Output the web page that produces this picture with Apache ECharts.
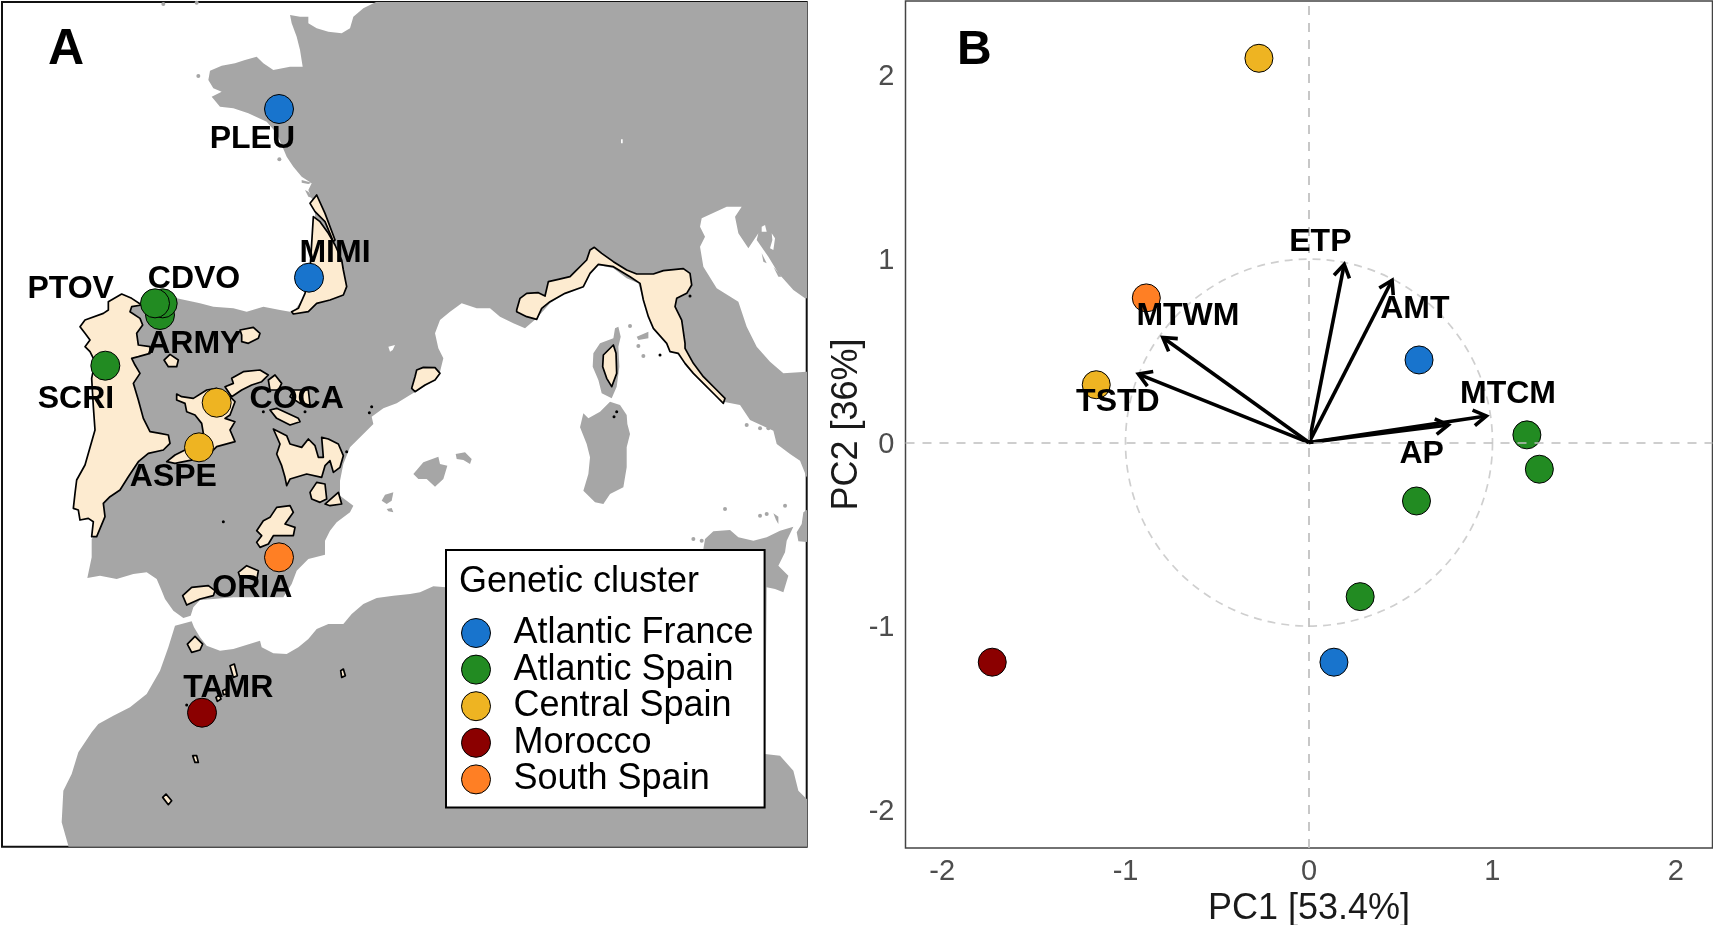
<!DOCTYPE html>
<html>
<head>
<meta charset="utf-8">
<title>Genetic clusters and climate PCA</title>
<script src="https://cdn.jsdelivr.net/npm/echarts@6/dist/echarts.min.js"></script>
<style>
  html, body { margin: 0; padding: 0; background: #fff; }
  #chart { width: 1713px; height: 925px; }
</style>
</head>
<body>
<div id="chart"></div>
<script>
const europeCoast = [[1130,-10],[1130,5],[1090,25],[1060,50],[1050,85],[1025,100],[985,95],[950,85],[925,70],[925,50],[900,50],[870,45],[875,70],[890,110],[900,150],[908,200],[870,200],[820,210],[790,190],[770,170],[735,180],[705,190],[665,197],[630,212],[625,240],[640,265],[665,275],[635,290],[660,320],[700,325],[745,340],[800,365],[830,400],[845,435],[860,470],[880,500],[905,530],[935,550],[925,570],[945,620],[945,700],[935,790],[925,870],[905,900],[885,930],[870,935],[840,930],[790,920],[740,935],[700,925],[640,920],[600,910],[530,895],[430,915],[400,900],[330,930],[300,1000],[300,1300],[260,1500],[290,1600],[275,1617],[275,1672],[262,1734],[300,1727],[350,1737],[400,1722],[440,1717],[470,1737],[485,1772],[495,1797],[520,1832],[550,1854],[572,1847],[580,1822],[600,1800],[640,1797],[700,1792],[790,1792],[850,1792],[875,1752],[890,1712],[925,1677],[975,1664],[975,1622],[990,1592],[1010,1567],[1050,1537],[1060,1517],[1020,1487],[1020,1442],[1030,1392],[1050,1342],[1090,1302],[1120,1272],[1115,1250],[1150,1225],[1190,1210],[1230,1185],[1290,1150],[1320,1115],[1330,1075],[1315,1045],[1305,1000],[1320,960],[1350,935],[1385,910],[1430,925],[1470,925],[1500,950],[1540,970],[1575,985],[1610,955],[1650,910],[1695,880],[1750,860],[1770,820],[1795,795],[1840,805],[1880,835],[1915,850],[1935,920],[1960,985],[2000,1030],[2030,1060],[2060,1100],[2110,1150],[2170,1205],[2220,1215],[2250,1260],[2320,1292],[2330,1332],[2370,1362],[2400,1382],[2420,1432],[2440,1432],[2440,1115],[2420,1115],[2350,1120],[2310,1085],[2270,1040],[2240,980],[2215,905],[2150,865],[2110,800],[2100,740],[2115,710],[2100,680],[2105,655],[2180,620],[2225,620],[2205,650],[2215,700],[2245,745],[2275,700],[2270,720],[2305,770],[2335,820],[2380,870],[2415,895],[2440,895],[2440,-10]];
const africaCoast = [[205,2550],[205,2537],[185,2467],[190,2372],[215,2322],[235,2257],[275,2197],[295,2172],[340,2147],[390,2122],[440,2082],[480,2012],[505,1942],[525,1877],[575,1864],[582,1882],[600,1912],[620,1937],[660,1952],[700,1947],[780,1922],[785,1942],[820,1960],[860,1962],[895,1942],[925,1917],[950,1887],[985,1872],[1030,1872],[1055,1842],[1090,1812],[1130,1794],[1180,1787],[1230,1782],[1260,1777],[1300,1759],[1338,1762],[2110,1647],[2115,1617],[2140,1594],[2190,1590],[2215,1612],[2260,1622],[2300,1612],[2340,1592],[2380,1580],[2360,1622],[2355,1657],[2335,1697],[2365,1727],[2350,1777],[2325,1767],[2300,1762],[2295,2262],[2340,2267],[2380,2312],[2395,2372],[2420,2397],[2440,2400],[2440,2550]];
const sicily = [[2390,1597],[2405,1572],[2410,1537],[2420,1530],[2440,1530],[2440,1627],[2395,1624]];
const corsica = [[1855,980],[1862,1010],[1855,1040],[1858,1100],[1850,1160],[1835,1195],[1805,1180],[1795,1140],[1778,1100],[1780,1060],[1800,1030],[1840,1015],[1845,985]];
const sardinia = [[1750,1240],[1765,1255],[1800,1235],[1830,1205],[1860,1215],[1880,1245],[1882,1272],[1890,1302],[1880,1342],[1880,1402],[1870,1462],[1830,1482],[1810,1512],[1785,1507],[1750,1472],[1765,1422],[1770,1372],[1760,1332],[1740,1282]];
const mallorca = [[1240,1422],[1270,1387],[1315,1370],[1320,1392],[1342,1397],[1330,1437],[1305,1460],[1280,1437],[1255,1437]];
const menorca = [[1367,1362],[1395,1357],[1415,1377],[1410,1392],[1390,1380],[1370,1377]];
const ibiza = [[1145,1502],[1155,1484],[1180,1477],[1175,1502],[1160,1512]];
const formentera = [[1160,1527],[1175,1524],[1180,1537],[1165,1534]];
const elba = [[1910,1010],[1945,995],[1945,1015],[1915,1020]];
const reIsland = [[905,540],[935,548],[925,552],[905,548]];
const oleron = [[915,570],[925,575],[940,595],[925,590]];
const egadi = [[2320,1540],[2335,1550],[2335,1572],[2328,1560]];
const cres = [[2285,760],[2300,790],[2290,785]];
const dugi = [[2320,800],[2345,830],[2335,830]];
const landShapes = [europeCoast, africaCoast, sicily, corsica, sardinia, mallorca, menorca, ibiza, formentera, elba, reIsland, oleron, egadi, cres, dugi];

const kvarner = [[2285,680],[2295,675],[2300,695],[2285,695]];
const krk = [[2315,700],[2325,715],[2320,750],[2310,745],[2317,720]];
const lakeLeman = [[1863,418],[1868,418],[1868,430],[1863,430]];
const ebroSpot = [[1165,1040],[1185,1035],[1178,1050],[1170,1055]];
const seaShapes = [kvarner, krk, lakeLeman, ebroSpot];

// Species range patches
const landesNorth = [[930,610],[950,585],[975,640],[1005,720],[1000,725],[975,665],[945,635]];
const landes = [[940,650],[960,665],[985,700],[1005,735],[1025,780],[1030,810],[1040,860],[1030,885],[990,900],[950,910],[925,935],[880,942],[875,935],[895,925],[915,880],[930,810],[935,730]];
const galiciaPortugal = [[325,905],[365,882],[395,895],[425,915],[395,920],[390,935],[420,955],[428,975],[410,1000],[415,1035],[450,1040],[450,1060],[415,1070],[395,1075],[405,1095],[420,1120],[400,1150],[415,1200],[430,1255],[450,1295],[480,1300],[505,1305],[510,1330],[490,1350],[445,1360],[415,1385],[385,1430],[360,1470],[330,1490],[310,1510],[315,1550],[290,1610],[275,1610],[280,1565],[265,1555],[240,1560],[235,1530],[220,1525],[225,1480],[230,1440],[255,1395],[285,1290],[280,1220],[275,1135],[285,1085],[270,1055],[255,1040],[270,1020],[255,1000],[240,980],[255,960],[310,940],[325,930]];
const asturias = [[720,990],[760,982],[780,1000],[775,1015],[745,1030],[725,1025],[725,1005]];
const leon = [[510,1063],[535,1080],[530,1100],[505,1100],[492,1080]];
const centralSpain = [[530,1182],[545,1190],[580,1195],[620,1170],[650,1165],[690,1190],[705,1205],[690,1245],[675,1255],[705,1265],[690,1290],[705,1325],[650,1340],[630,1360],[600,1375],[525,1390],[500,1385],[525,1365],[555,1350],[580,1325],[610,1300],[605,1270],[585,1245],[560,1235],[555,1210],[530,1200]];
const guadarramaA = [[675,1160],[700,1150],[695,1135],[730,1115],[780,1110],[805,1125],[785,1145],[755,1155],[725,1170],[695,1190],[685,1175]];
const guadarramaB = [[805,1140],[825,1125],[845,1150],[835,1170],[810,1170]];
const guadarramaC = [[880,1170],[925,1170],[930,1215],[900,1210],[870,1190]];
const cocaBar = [[810,1230],[830,1225],[895,1255],[900,1265],[870,1275],[830,1255]];
const eastSpain = [[820,1287],[860,1307],[870,1332],[905,1342],[925,1317],[945,1337],[955,1372],[970,1372],[965,1312],[985,1317],[1015,1332],[1030,1367],[1020,1402],[1000,1417],[990,1382],[975,1397],[965,1432],[920,1422],[870,1437],[860,1457],[855,1432],[845,1397],[830,1362],[840,1332]];
const cuenca = [[930,1477],[950,1447],[975,1452],[980,1497],[960,1507],[935,1497]];
const valencia = [[975,1512],[1015,1477],[1025,1512],[990,1517]];
const betic = [[770,1592],[790,1562],[810,1552],[830,1522],[870,1517],[880,1537],[855,1572],[885,1582],[880,1607],[850,1607],[820,1607],[805,1632],[780,1642],[770,1627],[785,1607]];
const sierraNevada = [[715,1717],[740,1697],[775,1712],[770,1742],[740,1732],[720,1732]];
const malaga = [[548,1787],[575,1762],[625,1757],[645,1772],[640,1787],[600,1797],[560,1815]];
const rif = [[562,1932],[585,1909],[608,1932],[600,1950],[575,1957]];
const atlasA = [[690,1997],[703,1992],[712,2027],[700,2032]];
const atlasB = [[648,2092],[658,2084],[663,2097],[652,2104]];
const atlasC = [[668,2072],[678,2067],[680,2082],[670,2084]];
const atlasD = [[1022,2012],[1030,2007],[1036,2027],[1025,2032]];
const atlasE = [[578,2267],[590,2267],[595,2287],[585,2287]];
const atlasF = [[488,2392],[498,2382],[515,2402],[505,2414]];
const pyrenees = [[1250,1110],[1270,1102],[1305,1103],[1320,1120],[1305,1140],[1275,1155],[1245,1175],[1235,1165],[1245,1130]];
const alpsApennines = [[1550,930],[1560,895],[1580,880],[1615,878],[1635,888],[1645,845],[1675,838],[1710,830],[1725,815],[1745,795],[1760,780],[1770,750],[1783,742],[1805,760],[1840,785],[1880,810],[1910,822],[1960,822],[1990,812],[2050,806],[2070,820],[2075,855],[2060,880],[2030,895],[2025,920],[2045,960],[2055,1030],[2055,1045],[2080,1090],[2110,1130],[2150,1170],[2175,1195],[2170,1210],[2145,1185],[2110,1150],[2080,1120],[2055,1090],[2035,1060],[2010,1055],[2000,1030],[1960,985],[1945,950],[1930,900],[1920,850],[1890,830],[1840,800],[1795,793],[1770,820],[1750,860],[1695,880],[1650,905],[1625,925],[1610,958],[1580,950],[1550,935]];
const corsicaRange = [[1810,1065],[1840,1035],[1848,1060],[1850,1120],[1835,1160],[1820,1135],[1808,1100]];
const rangeShapes = [landesNorth, landes, galiciaPortugal, asturias, leon, centralSpain, guadarramaA, guadarramaB, guadarramaC, cocaBar, eastSpain, cuenca, valencia, betic, sierraNevada, malaga, rif, atlasA, atlasB, atlasC, atlasD, atlasE, atlasF, pyrenees, alpsApennines, corsicaRange];

const blackSpecks = [[1040,1355],[670,1565],[2070,888],[1980,1065],[1850,1235],[1842,1250],[1115,1220],[1108,1238],[790,1235],[915,1235],[560,2115]];
const greySpecks = [[2175,1527],[2280,1547],[2300,1542],[2355,1517],[2080,1617],[2105,1622],[2240,1275],[2280,1285],[2305,1285],[1890,978],[1915,1038],[1930,1068],[838,478],[595,228],[490,12],[590,8]];

// Clusters
const clusterNames = ['Atlantic France', 'Atlantic Spain', 'Central Spain', 'Morocco', 'South Spain'];
const clusterColors = ['#1874CD', '#228B22', '#EEB422', '#8B0000', '#FF7F24'];

// Sampling sites, drawn in this order
const siteNames = ['PLEU', 'MIMI', 'ARMY', 'CDVO', 'PTOV', 'SCRI', 'COCA', 'ASPE', 'ORIA', 'TAMR'];
const siteClusters = [0, 0, 1, 1, 1, 1, 2, 2, 4, 3];
const siteEast = [837, 927, 480, 488, 465, 316, 650, 597, 837, 606];
const siteSouth = [327, 833, 945, 910, 910, 1097, 1208, 1342, 1672, 2138];
const siteLabelEast = [757, 1005, 583, 582, 212, 228, 890, 520, 757, 685];
const siteLabelSouth = [410, 752, 1025, 830, 862, 1190, 1190, 1426, 1759, 2057];

// PCA scores
const pc1 = [-0.273, -0.887, -1.16, 0.60, 1.188, 1.256, 0.586, 0.279, 0.136, -1.727];
const pc2 = [2.093, 0.788, 0.315, 0.45, 0.042, -0.145, -0.318, -0.839, -1.196, -1.196];
const pcClusters = [2, 4, 2, 0, 1, 1, 1, 1, 0, 3];

// PCA loadings
const varNames = ['ETP', 'AMT', 'MTCM', 'AP', 'MTWM', 'TSTD'];
const varPc1 = [0.192, 0.453, 0.967, 0.76, -0.797, -0.93];
const varPc2 = [0.971, 0.884, 0.145, 0.096, 0.572, 0.373];
const varLabelPc1 = [0.062, 0.577, 1.085, 0.614, -0.66, -1.042];
const varLabelPc2 = [1.10, 0.736, 0.277, -0.051, 0.70, 0.232];

const pcTicks = [-2, -1, 0, 1, 2];
const unitCircle = [[0, 0, 1]];

const FONT = '"Liberation Sans", Arial, sans-serif';

function shapeSeries(shapes, fill, stroke) {
  return {
    type: 'custom',
    xAxisIndex: 0,
    yAxisIndex: 0,
    z: 1,
    clip: true,
    silent: true,
    data: shapes.map((s, i) => [i]),
    encode: { x: -1, y: -1 },
    renderItem: function (params, api) {
      const pts = shapes[params.dataIndex].map(p => api.coord(p));
      return {
        type: 'polygon',
        shape: { points: pts },
        style: { fill: fill, stroke: stroke, lineWidth: stroke ? 1.7 : 0, lineJoin: 'round' }
      };
    }
  };
}

function speckSeries(data, color, size) {
  return {
    type: 'scatter', xAxisIndex: 0, yAxisIndex: 0, z: 1, silent: true,
    symbolSize: size, itemStyle: { color: color, opacity: 1 }, data: data
  };
}

function textSeries(axisIndex, names, xs, ys) {
  return {
    type: 'scatter', xAxisIndex: axisIndex, yAxisIndex: axisIndex, z: 5, silent: true,
    symbolSize: 1, itemStyle: { color: 'transparent', opacity: 1 },
    label: {
      show: true, position: 'inside', color: '#000', fontFamily: FONT,
      fontWeight: 'bold', fontSize: 32, offset: [0, 2],
      formatter: p => names[p.dataIndex]
    },
    data: xs.map((x, i) => [x, ys[i]])
  };
}

function clusterSeries(axisIndex, cluster, xs, ys, groups, size) {
  const data = [];
  xs.forEach((x, i) => { if (groups[i] === cluster) data.push([x, ys[i]]); });
  return {
    name: clusterNames[cluster],
    type: 'scatter', xAxisIndex: axisIndex, yAxisIndex: axisIndex, z: 3, silent: true,
    symbolSize: size,
    itemStyle: { color: clusterColors[cluster], borderColor: '#000', borderWidth: 1, opacity: 1 },
    data: data
  };
}

const series = [
  shapeSeries(landShapes, '#A6A6A6', null),
  shapeSeries(seaShapes, '#FFFFFF', null),
  speckSeries(greySpecks, '#A6A6A6', 4),
  shapeSeries(rangeShapes, '#FDEBD0', '#000'),
  speckSeries(blackSpecks, '#000', 3)
];

clusterNames.forEach((n, c) => {
  series.push(clusterSeries(0, c, siteEast, siteSouth, siteClusters, 29));
});
series.push(textSeries(0, siteNames, siteLabelEast, siteLabelSouth));

// PCA panel
series.push({
  type: 'custom', xAxisIndex: 1, yAxisIndex: 1, z: 1, silent: true,
  data: unitCircle,
  renderItem: function (params, api) {
    const c = api.coord([api.value(0), api.value(1)]);
    const r = api.size([api.value(2), api.value(2)]);
    return {
      type: 'circle',
      shape: { cx: c[0], cy: c[1], r: (r[0] + r[1]) / 2 },
      style: { fill: 'none', stroke: '#CFCFCF', lineWidth: 1.7, lineDash: [8, 6] }
    };
  }
});
series.push({
  type: 'scatter', xAxisIndex: 1, yAxisIndex: 1, z: 1, silent: true, data: [],
  markLine: {
    silent: true, symbol: 'none', animation: false,
    label: { show: false },
    lineStyle: { color: '#BEBEBE', type: [9, 8], width: 1.7 },
    data: [{ xAxis: 0 }, { yAxis: 0 }]
  }
});
clusterNames.forEach((n, c) => {
  series.push(clusterSeries(1, c, pc1, pc2, pcClusters, 28));
});
series.push({
  type: 'custom', xAxisIndex: 1, yAxisIndex: 1, z: 4, silent: true,
  data: varPc1.map((x, i) => [x, varPc2[i]]),
  renderItem: function (params, api) {
    const o = api.coord([0, 0]);
    const e = api.coord([api.value(0), api.value(1)]);
    const a = Math.atan2(e[1] - o[1], e[0] - o[0]);
    const len = 15, spread = 0.55;
    const b1 = [e[0] - len * Math.cos(a - spread), e[1] - len * Math.sin(a - spread)];
    const b2 = [e[0] - len * Math.cos(a + spread), e[1] - len * Math.sin(a + spread)];
    const style = { fill: 'none', stroke: '#000', lineWidth: 3.6 };
    return {
      type: 'group',
      children: [
        { type: 'line', shape: { x1: o[0], y1: o[1], x2: e[0], y2: e[1] }, style: style },
        { type: 'polyline', shape: { points: [b1, e, b2] }, style: style }
      ]
    };
  }
});
series.push(textSeries(1, varNames, varLabelPc1, varLabelPc2));

const chart = echarts.init(document.getElementById('chart'));
chart.setOption({
  animation: false,
  backgroundColor: '#fff',
  textStyle: { fontFamily: FONT },
  title: [
    { text: 'A', left: 48, top: 25, padding: 0, textStyle: { fontFamily: FONT, fontWeight: 'bold', fontSize: 50, color: '#000' } },
    { text: 'B', left: 957, top: 27, padding: 0, textStyle: { fontFamily: FONT, fontWeight: 'bold', fontSize: 48, color: '#000' } },
    { text: 'Genetic cluster', left: 459, top: 564, z: 10, padding: 0, textStyle: { fontFamily: FONT, fontWeight: 'normal', fontSize: 36, color: '#000' } }
  ],
  legend: {
    left: 446, top: 550,
    orient: 'vertical',
    data: clusterNames,
    icon: 'circle',
    itemWidth: 29, itemHeight: 29, itemGap: 0.6,
    padding: [65, 11, 10, 15],
    backgroundColor: '#fff',
    borderColor: '#000', borderWidth: 2,
    selectedMode: false,
    itemStyle: { borderColor: '#000', borderWidth: 1 },
    textStyle: { fontFamily: FONT, fontSize: 36, color: '#000', lineHeight: 29, padding: [0, 0, 0, 18] }
  },
  grid: [
    { left: 2, top: 2, width: 804.7, height: 844.7, show: true, borderColor: '#111', borderWidth: 2, backgroundColor: '#fff', z: 0, outerBoundsMode: 'none' },
    { left: 905.5, top: 1, width: 807, height: 847, show: true, borderColor: '#444', borderWidth: 1.5, backgroundColor: '#fff', z: 0, outerBoundsMode: 'none' }
  ],
  xAxis: [
    { type: 'value', gridIndex: 0, min: 6, max: 2420, show: false },
    {
      type: 'value', gridIndex: 1, min: -2.2, max: 2.2,
      name: 'PC1 [53.4%]', nameLocation: 'middle', nameGap: 39,
      nameTextStyle: { fontFamily: FONT, fontSize: 36, color: '#1a1a1a' },
      axisLine: { show: false }, axisTick: { show: false }, splitLine: { show: false },
      axisLabel: { customValues: pcTicks, color: '#4D4D4D', fontSize: 29, margin: 9, fontFamily: FONT }
    }
  ],
  yAxis: [
    { type: 'value', gridIndex: 0, min: 6, max: 2540, inverse: true, show: false },
    {
      type: 'value', gridIndex: 1, min: -2.208, max: 2.405,
      name: 'PC2 [36%]', nameLocation: 'middle', nameGap: 38,
      nameTextStyle: { fontFamily: FONT, fontSize: 36, color: '#1a1a1a' },
      axisLine: { show: false }, axisTick: { show: false }, splitLine: { show: false },
      axisLabel: { customValues: pcTicks, color: '#4D4D4D', fontSize: 29, margin: 11, fontFamily: FONT, verticalAlign: 'top', lineHeight: 4 }
    }
  ],
  series: series
});

window.addEventListener('resize', function () {
  chart.resize();
});
</script>
</body>
</html>
